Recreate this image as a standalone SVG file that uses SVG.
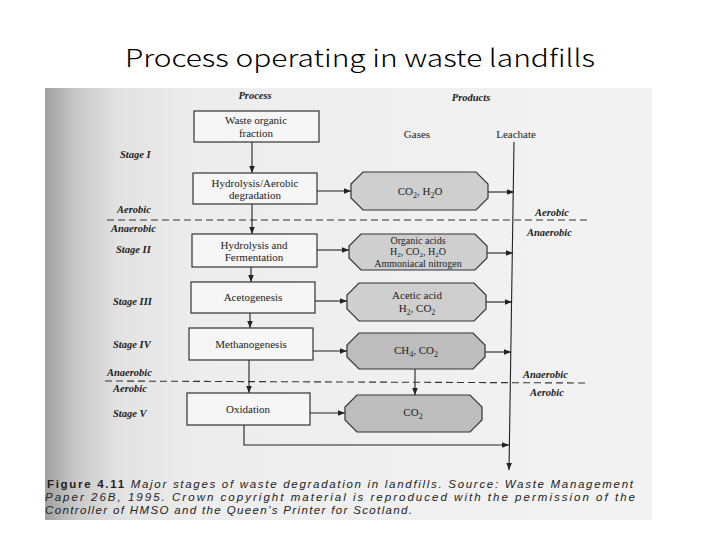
<svg xmlns="http://www.w3.org/2000/svg" width="720" height="540" viewBox="0 0 720 540">
<defs>
<linearGradient id="pageg" x1="0" y1="0" x2="1" y2="0">
<stop offset="0" stop-color="#a0a0a0"/>
<stop offset="0.05" stop-color="#c8c8c8"/>
<stop offset="0.12" stop-color="#e2e2e2"/>
<stop offset="0.25" stop-color="#ededed"/>
<stop offset="1" stop-color="#f3f3f3"/>
</linearGradient>
<marker id="ah" viewBox="0 0 10 10" refX="10" refY="5" markerWidth="7" markerHeight="7" orient="auto" markerUnits="userSpaceOnUse">
<path d="M0,1 L10,5 L0,9 z" fill="#222"/>
</marker>
</defs>
<style>
.box{fill:#f6f6f6;stroke:#333;stroke-width:1.2}
.oct{fill:#cfcfcf;stroke:#333;stroke-width:1.2}
.octd{fill:#bdbdbd;stroke:#333;stroke-width:1.2}
.t{font-family:"Liberation Serif",serif;font-size:11px;fill:#222;text-anchor:middle}
.ts{font-family:"Liberation Serif",serif;font-size:10px;fill:#222;text-anchor:middle}
.st{font-family:"Liberation Serif",serif;font-size:10.5px;font-weight:bold;font-style:italic;fill:#222}
.ln{stroke:#222;stroke-width:1.1;fill:none}
.dash{stroke:#333;stroke-width:1.1;stroke-dasharray:7 4;fill:none}
.cap{font-family:"Liberation Sans",sans-serif;font-size:11.5px;font-style:italic;fill:#222}
</style>
<rect width="720" height="540" fill="#ffffff"/>
<text x="125" y="67" font-family="'Noto Sans CJK JP','DejaVu Sans',sans-serif" font-weight="300" font-size="24" fill="#000" textLength="470" lengthAdjust="spacingAndGlyphs">Process operating in waste landfills</text>
<rect x="45" y="88" width="607" height="432" fill="url(#pageg)"/>

<g id="headers">
<text class="st" x="255" y="99" text-anchor="middle">Process</text>
<text class="st" x="471" y="101" text-anchor="middle">Products</text>
<text class="t" x="417" y="138">Gases</text>
<text class="t" x="516" y="138">Leachate</text>
</g>

<g id="stages">
<text class="st" x="120" y="158">Stage I</text>
<text class="st" x="116" y="253">Stage II</text>
<text class="st" x="113" y="305">Stage III</text>
<text class="st" x="113" y="348">Stage IV</text>
<text class="st" x="113" y="417">Stage V</text>
<text class="st" x="117" y="213">Aerobic</text>
<text class="st" x="111" y="232">Anaerobic</text>
<text class="st" x="535" y="216">Aerobic</text>
<text class="st" x="527" y="236">Anaerobic</text>
<text class="st" x="107" y="376">Anaerobic</text>
<text class="st" x="113" y="392">Aerobic</text>
<text class="st" x="523" y="378">Anaerobic</text>
<text class="st" x="530" y="396">Aerobic</text>
</g>

<g id="connectors">
<line class="dash" x1="107" y1="220" x2="590" y2="220"/>
<line class="dash" x1="105" y1="381" x2="587" y2="383"/>
<line class="ln" x1="514" y1="142" x2="509" y2="470" marker-end="url(#ah)"/>
<line class="ln" x1="252" y1="142" x2="252" y2="173" marker-end="url(#ah)"/>
<line class="ln" x1="252" y1="204" x2="252" y2="234" marker-end="url(#ah)"/>
<line class="ln" x1="251" y1="267" x2="251" y2="282" marker-end="url(#ah)"/>
<line class="ln" x1="250" y1="313" x2="250" y2="328" marker-end="url(#ah)"/>
<line class="ln" x1="249" y1="360" x2="249" y2="393" marker-end="url(#ah)"/>
<line class="ln" x1="317" y1="191" x2="351" y2="191" marker-end="url(#ah)"/>
<line class="ln" x1="317" y1="250" x2="349" y2="250" marker-end="url(#ah)"/>
<line class="ln" x1="315" y1="301" x2="347" y2="301" marker-end="url(#ah)"/>
<line class="ln" x1="313" y1="351" x2="347" y2="351" marker-end="url(#ah)"/>
<line class="ln" x1="310" y1="413" x2="345" y2="413" marker-end="url(#ah)"/>
<line class="ln" x1="488" y1="192" x2="514" y2="192" marker-end="url(#ah)"/>
<line class="ln" x1="487" y1="253" x2="513" y2="253" marker-end="url(#ah)"/>
<line class="ln" x1="486" y1="302" x2="512" y2="302" marker-end="url(#ah)"/>
<line class="ln" x1="485" y1="352" x2="511" y2="352" marker-end="url(#ah)"/>
<line class="ln" x1="415" y1="369" x2="415" y2="395" marker-end="url(#ah)"/>
<polyline class="ln" points="244,425 244,445 509,445" marker-end="url(#ah)"/>
</g>

<g id="n-waste"><rect class="box" x="194" y="111" width="125" height="31"/>
<text class="t" x="256" y="124">Waste organic</text><text class="t" x="256" y="137">fraction</text></g>
<g id="n-hydro1"><rect class="box" x="193" y="173" width="124" height="31"/>
<text class="t" x="255" y="187">Hydrolysis/Aerobic</text><text class="t" x="255" y="199">degradation</text></g>
<g id="n-hydro2"><rect class="box" x="192" y="234" width="125" height="33"/>
<text class="t" x="254" y="249">Hydrolysis and</text><text class="t" x="254" y="261">Fermentation</text></g>
<g id="n-aceto"><rect class="box" x="191" y="282" width="124" height="31"/>
<text class="t" x="253" y="301">Acetogenesis</text></g>
<g id="n-methano"><rect class="box" x="189" y="328" width="124" height="32"/>
<text class="t" x="251" y="348">Methanogenesis</text></g>
<g id="n-oxid"><rect class="box" x="187" y="393" width="123" height="32"/>
<text class="t" x="248" y="413">Oxidation</text></g>

<g id="p-co2h2o"><polygon class="oct" points="363,172 476,172 488,184 488,198 476,210 363,210 351,198 351,184"/>
<text class="t" x="420" y="195">CO<tspan font-size="8" dy="3">2</tspan><tspan dy="-3">, H</tspan><tspan font-size="8" dy="3">2</tspan><tspan dy="-3">O</tspan></text></g>
<g id="p-organic"><polygon class="oct" points="361,234 475,234 487,246 487,258 475,270 361,270 349,258 349,246"/>
<text class="ts" x="418" y="244">Organic acids</text>
<text class="ts" x="418" y="255">H<tspan font-size="7" dy="2">2</tspan><tspan dy="-2">, CO</tspan><tspan font-size="7" dy="2">2</tspan><tspan dy="-2">, H</tspan><tspan font-size="7" dy="2">2</tspan><tspan dy="-2">O</tspan></text>
<text class="ts" x="418" y="267">Ammoniacal nitrogen</text></g>
<g id="p-acetic"><polygon class="oct" points="359,283 474,283 486,295 486,309 474,321 359,321 347,309 347,295"/>
<text class="t" x="417" y="299">Acetic acid</text>
<text class="t" x="417" y="312">H<tspan font-size="8" dy="3">2</tspan><tspan dy="-3">, CO</tspan><tspan font-size="8" dy="3">2</tspan></text></g>
<g id="p-ch4"><polygon class="octd" points="359,333 473,333 485,345 485,357 473,369 359,369 347,357 347,345"/>
<text class="t" x="416" y="354">CH<tspan font-size="8" dy="3">4</tspan><tspan dy="-3">, CO</tspan><tspan font-size="8" dy="3">2</tspan></text></g>
<g id="p-co2"><polygon class="octd" points="357,395 470,395 482,407 482,420 470,432 357,432 345,420 345,407"/>
<text class="t" x="413" y="416">CO<tspan font-size="8" dy="3">2</tspan></text></g>

<g id="caption">
<text class="cap" x="47" y="488" textLength="586" lengthAdjust="spacing"><tspan font-weight="bold" font-style="normal">Figure 4.11</tspan>   Major stages of waste degradation in landfills. Source: Waste Management</text>
<text class="cap" x="45" y="501" textLength="590" lengthAdjust="spacing">Paper 26B, 1995. Crown copyright material is reproduced with the permission of the</text>
<text class="cap" x="45" y="514" textLength="367" lengthAdjust="spacing">Controller of HMSO and the Queen’s Printer for Scotland.</text>
</g>
</svg>
